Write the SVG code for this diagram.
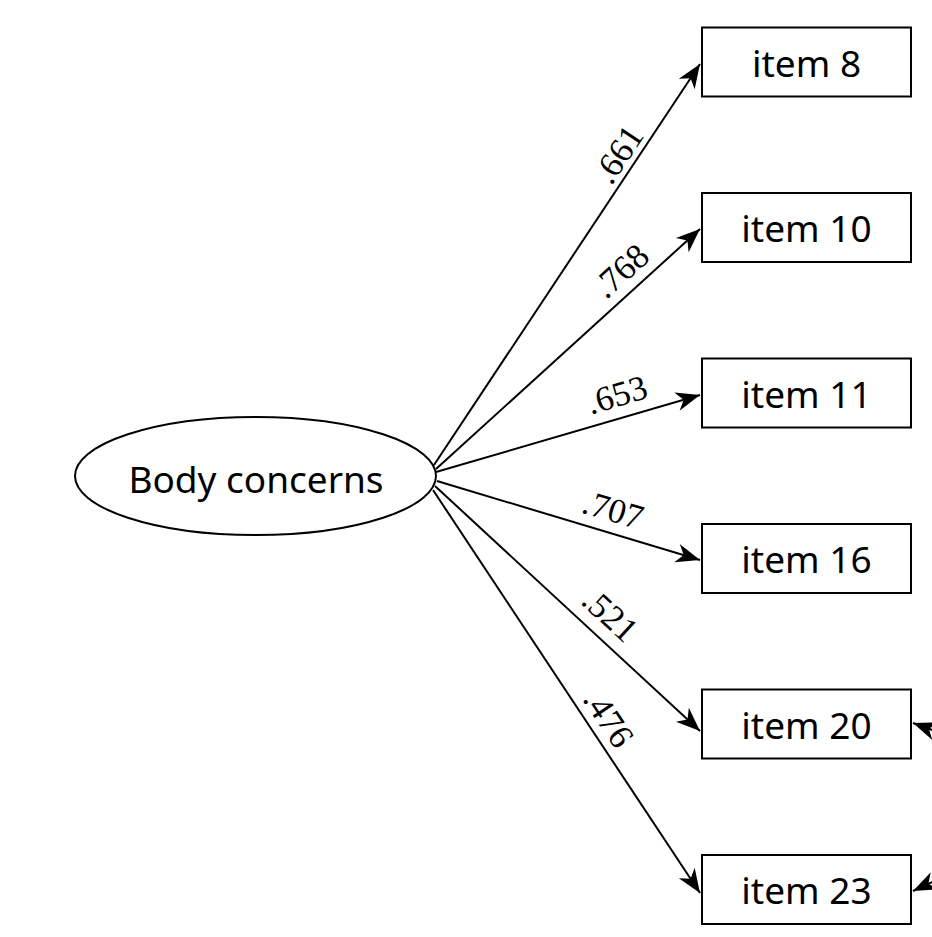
<svg xmlns="http://www.w3.org/2000/svg" width="932" height="937" viewBox="0 0 932 937">
<style>
.box{fill:#fff;stroke:#000;stroke-width:2}
.lbl{font-family:"Noto Sans","Liberation Sans",sans-serif;font-size:37px;fill:#000;text-anchor:middle}
.num{font-family:"Liberation Serif",serif;font-size:35px;fill:#000;text-anchor:middle;dominant-baseline:central}
.edge{stroke:#000;stroke-width:2;fill:none;marker-end:url(#ah)}
</style>
<defs>
<marker id="ah" markerUnits="userSpaceOnUse" markerWidth="30" markerHeight="24" viewBox="-26 -12 30 24" refX="0" refY="0" orient="auto">
<path d="M0,0 L-24,-9.5 L-17,0 L-24,9.5 Z" fill="#000"/>
</marker>
</defs>
<rect width="932" height="937" fill="#fff"/>
<g id="connectors">
<line class="edge" x1="434" y1="465" x2="700" y2="64"/>
<line class="edge" x1="436" y1="469" x2="700" y2="229"/>
<line class="edge" x1="436" y1="472" x2="700" y2="395"/>
<line class="edge" x1="437" y1="481" x2="700" y2="560"/>
<line class="edge" x1="435" y1="486" x2="700" y2="731"/>
<line class="edge" x1="433" y1="490" x2="700" y2="893"/>
<line class="edge" x1="979" y1="747" x2="913" y2="723"/>
<line class="edge" x1="979" y1="860" x2="913" y2="891"/>
<text class="num" transform="translate(618.5,154.5) rotate(-56.4)">.661</text>
<text class="num" transform="translate(621,271) rotate(-42.3)">.768</text>
<text class="num" transform="translate(617,395) rotate(-16.3)">.653</text>
<text class="num" transform="translate(613,510) rotate(16.7)">.707</text>
<text class="num" transform="translate(610,615) rotate(42.6)">.521</text>
<text class="num" transform="translate(608.5,718.5) rotate(56.5)">.476</text>
</g>
<g id="body-concerns">
<ellipse cx="255.5" cy="476" rx="180.5" ry="59" fill="#fff" stroke="#000" stroke-width="2"/>
<text class="lbl" x="256" y="493">Body concerns</text>
</g>
<g id="item8"><rect class="box" x="702" y="27.5" width="209" height="69"/><text class="lbl" x="806.5" y="77">item 8</text></g>
<g id="item10"><rect class="box" x="702" y="193" width="209" height="69"/><text class="lbl" x="806.5" y="242">item 10</text></g>
<g id="item11"><rect class="box" x="702" y="358.5" width="209" height="69"/><text class="lbl" x="806.5" y="408">item 11</text></g>
<g id="item16"><rect class="box" x="702" y="524" width="209" height="69"/><text class="lbl" x="806.5" y="573">item 16</text></g>
<g id="item20"><rect class="box" x="702" y="689.5" width="209" height="69"/><text class="lbl" x="806.5" y="739">item 20</text></g>
<g id="item23"><rect class="box" x="702" y="855" width="209" height="69"/><text class="lbl" x="806.5" y="904">item 23</text></g>
</svg>
